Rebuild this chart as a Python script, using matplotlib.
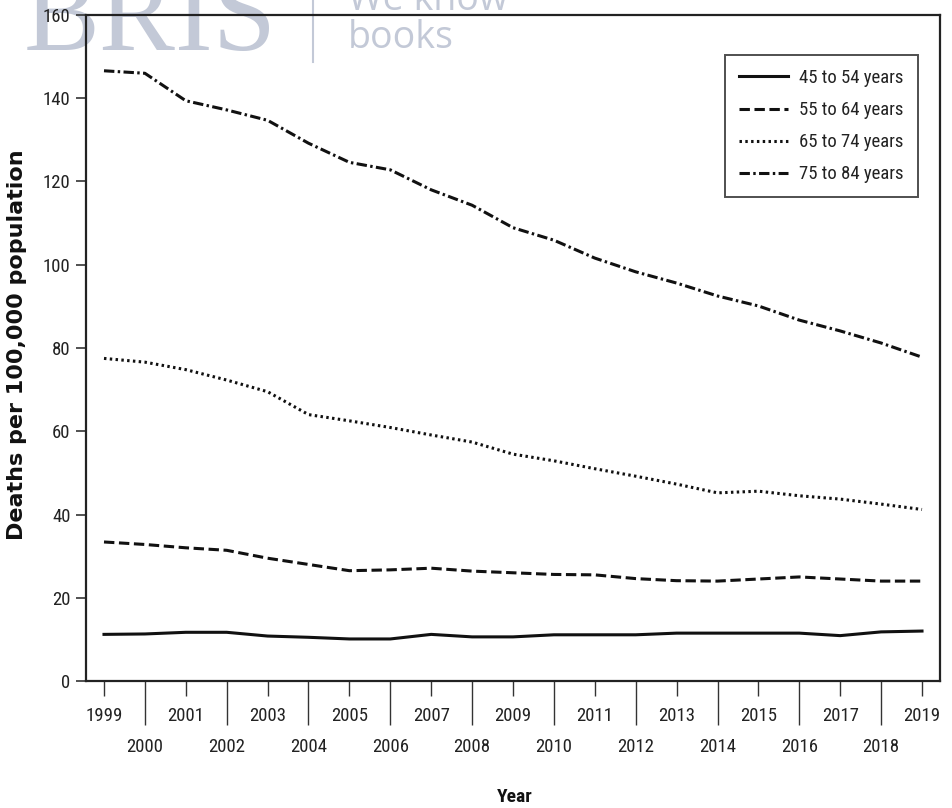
import matplotlib

matplotlib.use("Agg")

import matplotlib.pyplot as plt
from matplotlib import font_manager
from matplotlib.lines import Line2D

years = [1999, 2000, 2001, 2002, 2003, 2004, 2005, 2006, 2007, 2008, 2009,
         2010, 2011, 2012, 2013, 2014, 2015, 2016, 2017, 2018, 2019]

age_45_54 = [11.2, 11.3, 11.7, 11.7, 10.8, 10.5, 10.1, 10.1, 11.2, 10.6, 10.6,
             11.1, 11.1, 11.1, 11.5, 11.5, 11.5, 11.5, 10.9, 11.8, 12.0]
age_55_64 = [33.4, 32.8, 32.0, 31.4, 29.5, 28.0, 26.5, 26.7, 27.1, 26.4, 26.0,
             25.6, 25.5, 24.6, 24.1, 24.0, 24.5, 25.0, 24.5, 24.0, 24.0]
age_65_74 = [77.5, 76.6, 74.8, 72.3, 69.5, 64.0, 62.5, 60.9, 59.1, 57.4, 54.5,
             52.9, 51.0, 49.2, 47.3, 45.2, 45.6, 44.5, 43.7, 42.5, 41.2]
age_75_84 = [146.6, 146.0, 139.4, 137.2, 134.7, 129.2, 124.6, 122.8, 118.0, 114.3, 108.9,
             105.9, 101.6, 98.3, 95.6, 92.5, 90.1, 86.7, 84.1, 81.2, 77.8]

labels = ["45 to 54 years", "55 to 64 years", "65 to 74 years", "75 to 84 years"]
y_ticks = [0, 20, 40, 60, 80, 100, 120, 140, 160]

# pick a narrow face if one is installed, otherwise Roboto (narrower than DejaVu)
_fonts = font_manager.fontManager.ttflist
_names = {f.name for f in _fonts}
NARROW, NSIZE, NSTRETCH = "Roboto", 12.5, "normal"
for cand in ["Liberation Sans Narrow", "Roboto Condensed", "Open Sans Condensed",
             "Noto Sans Condensed", "DejaVu Sans Condensed"]:
    if cand in _names:
        NARROW, NSIZE = cand, 13.5
        break
else:
    if any(f.name == "DejaVu Sans" and f.stretch == "condensed" for f in _fonts):
        NARROW, NSIZE, NSTRETCH = "DejaVu Sans", 13.0, "condensed"
NFONT = {"family": NARROW, "size": NSIZE, "stretch": NSTRETCH}

fig = plt.figure(figsize=(9.52, 8.08), dpi=100)
ax = fig.add_axes([86 / 952, 127 / 808, 854 / 952, 666 / 808])
ax.set_facecolor("none")

# faint scan watermark behind the chart
wm = "#c3c9d7"
fig.text(277 / 952, 1 - 50 / 808, "BRIS", fontsize=82, family="Liberation Serif",
         color=wm, ha="right", va="baseline", zorder=-1)
fig.text(348 / 952, 1 - 48 / 808, "We know\nbooks", fontsize=27, family="Open Sans",
         color=wm, ha="left", va="baseline", linespacing=1.0, zorder=-1)
fig.add_artist(Line2D([313 / 952, 313 / 952], [1.0, 1 - 62 / 808],
                      transform=fig.transFigure, color=wm, lw=1.5, zorder=-1))

styles = [
    dict(linestyle="-"),
    dict(linestyle=(0, (3.4, 1.5))),
    dict(linestyle=(0, (0.8, 1.1))),
    dict(linestyle=(0, (3.4, 1.1, 0.8, 1.1))),
]
series = [age_45_54, age_55_64, age_65_74, age_75_84]
for vals, lab, st in zip(series, labels, styles):
    ax.plot(years, vals, color="#111111", lw=2.2, label=lab, **st)

ax.set_xlim(1998.56, 2019.44)
ax.set_ylim(0, 160)
ax.set_yticks(y_ticks)
ax.set_yticklabels([str(v) for v in y_ticks], fontdict=NFONT, color="#222222")

odd = [y for y in years if y % 2 == 1]
even = [y for y in years if y % 2 == 0]
ax.set_xticks(odd)
ax.set_xticklabels([str(y) for y in odd], fontdict=NFONT, color="#222222")
ax.set_xticks(even, minor=True)
ax.set_xticklabels([str(y) for y in even], minor=True, fontdict=NFONT, color="#222222")
ax.tick_params(axis="x", which="major", length=11, width=1.0, pad=8, color="#333333")
ax.tick_params(axis="x", which="minor", length=32, width=1.0, pad=9, color="#333333")
ax.tick_params(axis="y", length=7, width=1.2, pad=4, color="#333333")

for sp in ax.spines.values():
    sp.set_linewidth(1.6)
    sp.set_color("#222222")

ax.set_ylabel("Deaths per 100,000 population", fontsize=16, fontweight="bold",
              family="DejaVu Sans", color="#111111")
ax.yaxis.set_label_coords(-(86 - 27) / 854, (681 - 345) / 666)
ax.set_xlabel("Year", fontweight="bold", color="#111111",
              fontdict={"family": NARROW, "size": NSIZE + 0.5, "stretch": NSTRETCH})
ax.xaxis.set_label_coords((515 - 86) / 854, -(788 - 681) / 666)

leg = ax.legend(loc="upper right", bbox_to_anchor=(0.974, 0.94), frameon=True,
                fancybox=False, handlelength=2.6, handletextpad=0.6,
                labelspacing=0.75, borderpad=0.75, borderaxespad=0, prop=NFONT)
leg.get_frame().set_edgecolor("#222222")
leg.get_frame().set_linewidth(1.4)
for t in leg.get_texts():
    t.set_color("#222222")

fig.savefig("out.png", dpi=100)
